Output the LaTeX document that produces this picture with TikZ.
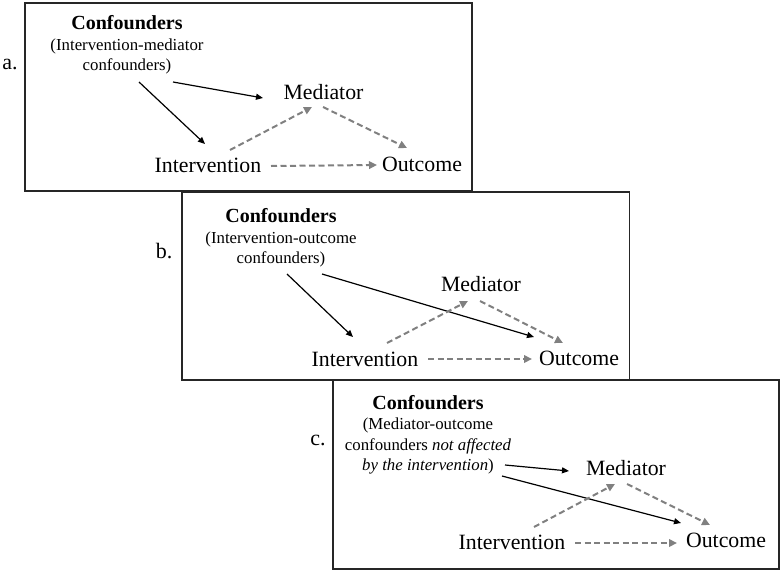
\documentclass[tikz,border=0pt]{standalone}
\usepackage{fontspec}
\setmainfont{Liberation Serif}
\usetikzlibrary{arrows.meta}
\begin{document}
\begin{tikzpicture}[x=1pt,y=-1pt,
  frame/.style={draw=black!85,line width=1.2pt},
  lbl/.style={anchor=base,inner sep=0pt,font=\fontsize{22}{26}\selectfont},
  var/.style={anchor=base,inner sep=0pt,font=\fontsize{21.8}{26}\selectfont},
  conf/.style={align=center,inner sep=0pt,font=\fontsize{16.8}{20.5}\selectfont},
  blk/.style={line width=1.2pt,-{Triangle[length=7pt,width=6pt]}},
  gdash/.style={line width=2pt,draw=black!50,dash pattern=on 6pt off 3.5pt,
     -{Triangle[length=8pt,width=7.5pt,fill=black!50]}}]
\useasboundingbox (0,0) rectangle (782,573);
% frames
\draw[frame] (25,3) rectangle (472,191);
\draw[frame] (182,192) rectangle (629.5,380);
\draw[frame] (333,380) rectangle (779,569);
% labels
\node[lbl] (la) at (10,69) {a.};
\node[lbl] (lb) at (164,258) {b.};
\node[lbl] (lc) at (318,445) {c.};
% panel a
\node[conf] (ca) at (127,45) {{\fontsize{20}{20.5}\selectfont\bfseries Confounders}\\(Intervention-mediator\\confounders)};
\node[var] (ma) at (323.5,99) {Mediator};
\node[var] (ia) at (208,172.5) {Intervention};
\node[var] (oa) at (422,171) {Outcome};
\draw[blk] ([xshift=12pt,yshift=-37pt]ca.center) -- ([xshift=-3pt,yshift=28.5pt]ia.base);
\draw[blk] ([xshift=46pt,yshift=-37pt]ca.center) -- ([xshift=-60.5pt,yshift=1pt]ma.base);
\draw[gdash] ([xshift=22pt,yshift=22.5pt]ia.base) -- ([xshift=-11.5pt,yshift=-8pt]ma.base);
\draw[gdash] ([xshift=-0.5pt,yshift=-8pt]ma.base) -- ([xshift=-15pt,yshift=23pt]oa.base);
\draw[gdash] ([xshift=63pt,yshift=6.5pt]ia.base) -- ([xshift=-45pt,yshift=6pt]oa.base);
% panel b
\node[conf] (cb) at (281,238) {{\fontsize{20}{20.5}\selectfont\bfseries Confounders}\\(Intervention-outcome\\confounders)};
\node[var] (mb) at (481,291) {Mediator};
\node[var] (ib) at (365,366) {Intervention};
\node[var] (ob) at (579,365) {Outcome};
\draw[blk] ([xshift=6pt,yshift=-36pt]cb.center) -- ([xshift=-12pt,yshift=29pt]ib.base);
\draw[blk] ([xshift=41pt,yshift=-36pt]cb.center) -- ([xshift=-45pt,yshift=28pt]ob.base);
\draw[gdash] ([xshift=22pt,yshift=23pt]ib.base) -- ([xshift=-13pt,yshift=-10pt]mb.base);
\draw[gdash] ([xshift=-1pt,yshift=-10pt]mb.base) -- ([xshift=-16pt,yshift=22pt]ob.base);
\draw[gdash] ([xshift=63pt,yshift=7pt]ib.base) -- ([xshift=-47pt,yshift=6pt]ob.base);
% panel c
\node[conf] (cc) at (428,435) {{\fontsize{20}{20.5}\selectfont\bfseries Confounders}\\(Mediator-outcome\\confounders \textit{not affected}\\\textit{by the intervention})};
\node[var] (mc) at (626,475) {Mediator};
\node[var] (ic) at (512,549) {Intervention};
\node[var] (oc) at (726,547) {Outcome};
\draw[blk] ([xshift=77pt,yshift=-30pt]cc.center) -- ([xshift=-57pt,yshift=4pt]mc.base);
\draw[blk] ([xshift=74pt,yshift=-41pt]cc.center) -- ([xshift=-45pt,yshift=24pt]oc.base);
\draw[gdash] ([xshift=22pt,yshift=22pt]ic.base) -- ([xshift=-11pt,yshift=-9pt]mc.base);
\draw[gdash] ([xshift=1pt,yshift=-9pt]mc.base) -- ([xshift=-16pt,yshift=22pt]oc.base);
\draw[gdash] ([xshift=63pt,yshift=6pt]ic.base) -- ([xshift=-49pt,yshift=4pt]oc.base);
\end{tikzpicture}
\end{document}
